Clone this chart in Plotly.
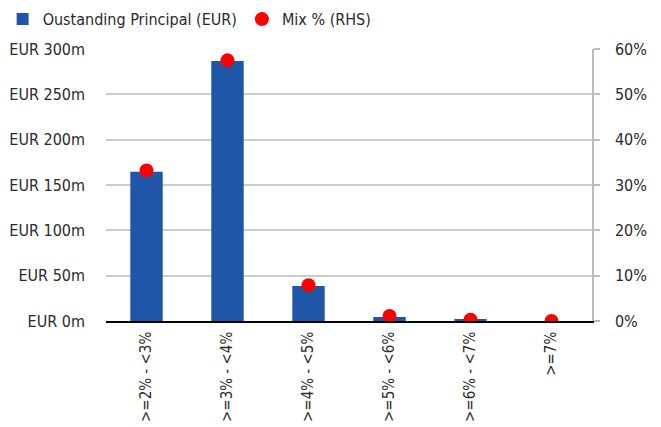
import plotly.graph_objects as go

# Interest-rate buckets and their balances
categories = [">=2% - <3%", ">=3% - <4%", ">=4% - <5%", ">=5% - <6%", ">=6% - <7%", ">=7%"]
principal_eur_m = [164.5, 286.8, 38.6, 4.4, 1.2, 0.0]
mix_pct = [33.2, 57.5, 7.9, 1.1, 0.3, 0.0]

left_ticks = [0, 50, 100, 150, 200, 250, 300]
left_tick_text = [f"EUR {v}m" for v in left_ticks]
right_ticks = [0, 10, 20, 30, 40, 50, 60]
right_tick_text = [f"{v}%" for v in right_ticks]

FONT = "DejaVu Sans Condensed, Liberation Sans Narrow, Roboto, sans-serif"
TEXT = "#2a2a2a"

fig = go.Figure()
fig.add_trace(go.Bar(
    x=categories, y=principal_eur_m, name="Oustanding Principal (EUR)",
    marker=dict(color="#1f56a8", line=dict(width=0)),
    yaxis="y",
))
fig.add_trace(go.Scatter(
    x=categories, y=mix_pct, name="Mix % (RHS)", mode="markers",
    marker=dict(color="#ff0000", size=14, symbol="circle"),
    yaxis="y2",
))

fig.update_layout(
    width=661, height=427,
    margin=dict(l=106, r=69, t=49, b=106, autoexpand=False),
    paper_bgcolor="white", plot_bgcolor="white",
    font=dict(family=FONT, size=16, color=TEXT),
    bargap=0.6,
    showlegend=True,
    legend=dict(orientation="h", xref="container", x=0.004, xanchor="left",
                yref="container", y=0.955, yanchor="middle",
                font=dict(family=FONT, size=16, color=TEXT),
                itemwidth=30, tracegroupgap=0, bgcolor="rgba(0,0,0,0)"),
    xaxis=dict(
        type="category", tickangle=-90, showgrid=False, showline=True,
        linecolor="black", linewidth=1.5, ticks="", ticklabelstandoff=3,
        tickfont=dict(family=FONT, size=15, color=TEXT),
    ),
    yaxis=dict(
        range=[0, 300], tickvals=left_ticks, ticktext=left_tick_text,
        showgrid=True, gridcolor="#cccccc", gridwidth=1.5,
        zeroline=False, showline=False, ticks="", ticklabelstandoff=20,
        tickfont=dict(family=FONT, size=16, color=TEXT),
    ),
    yaxis2=dict(
        range=[0, 60], tickvals=right_ticks, ticktext=right_tick_text,
        overlaying="y", side="right", showgrid=False, zeroline=False,
        showline=True, linecolor="#bbbbbb", linewidth=1.5,
        ticks="outside", ticklen=6, tickcolor="#bbbbbb", tickwidth=1.5,
        ticklabelstandoff=12,
        tickfont=dict(family=FONT, size=16, color=TEXT),
    ),
)

fig.write_html("out.html")
